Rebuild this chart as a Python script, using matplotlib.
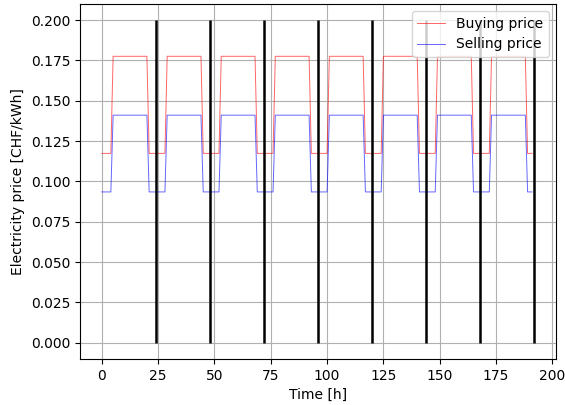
import numpy as np
import matplotlib
matplotlib.use("Agg")
import matplotlib.pyplot as plt

hours = list(range(192))
day_hours = list(range(5, 21))
buy_low, buy_high = 0.1174, 0.1776
sell_low, sell_high = 0.0935, 0.1411
buying = [buy_high if (h % 24) in day_hours else buy_low for h in hours]
selling = [sell_high if (h % 24) in day_hours else sell_low for h in hours]
day_bounds = [24, 48, 72, 96, 120, 144, 168, 192]

fig = plt.figure(figsize=(5.65, 4.05), dpi=100)
ax = fig.add_axes([0.142, 0.114, 0.842, 0.876])
ax.plot(hours, buying, color='red', lw=0.7, alpha=0.6, label='Buying price')
ax.plot(hours, selling, color='blue', lw=0.7, alpha=0.6, label='Selling price')
for d in day_bounds:
    ax.vlines(d, 0, 0.2, color='black', lw=1.8)
ax.grid(True, color='#b0b0b0', lw=0.8)
ax.set_xlabel('Time [h]')
ax.set_ylabel('Electricity price [CHF/kWh]')
ax.legend(loc='upper right', framealpha=0.8)
fig.savefig('out.png', dpi=100)
